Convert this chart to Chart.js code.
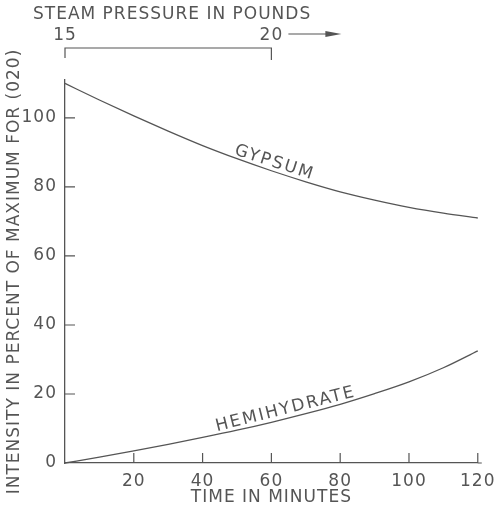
<!DOCTYPE html>
<html>
<head>
<meta charset="utf-8">
<script src="https://cdn.jsdelivr.net/npm/chart.js@4.4.1/dist/chart.umd.min.js"></script>
<style>
  html, body { margin: 0; padding: 0; background: #fff; }
  canvas { display: block; }
</style>
</head>
<body>
<canvas id="chart" width="502" height="508"></canvas>
<script>
// values
const minutes = [0, 10, 20, 30, 40, 50, 60, 70, 80, 90, 100, 110, 120];
const gypsum = [110, 105.2, 100.6, 96.2, 92.0, 88.2, 84.7, 81.5, 78.6, 76.2, 74.1, 72.4, 71.0];
const hemihydrate = [0, 1.7, 3.5, 5.4, 7.4, 9.5, 11.8, 14.3, 17.0, 20.1, 23.5, 27.6, 32.5];
const timeTicks = [20, 40, 60, 80, 100, 120];
const intensityTicks = [0, 20, 40, 60, 80, 100];
const pressureTicks = [15, 20];
const seriesNames = ["GYPSUM", "HEMIHYDRATE"];

const INK = "#555";
const FONT = { family: "'DejaVu Sans', sans-serif", size: 17 };

// label anchors in data units (minute, intensity)
const curveLabels = [
    { series: 0, minute: 60.5, value: 85.8 },
    { series: 1, minute: 64.5, value: 14.3 },
];

const decor = {
    id: "decor",
    beforeDraw(chart) {
        chart.ctx.letterSpacing = "1px";
    },
    afterDraw(chart) {
        const { ctx, chartArea } = chart;
        const x = chart.scales.x, y = chart.scales.y, p = chart.scales.x2;
        ctx.save();
        ctx.strokeStyle = INK;
        ctx.fillStyle = INK;
        ctx.lineWidth = 1.2;

        // inward tick marks
        ctx.beginPath();
        timeTicks.forEach(t => {
            const px = x.getPixelForValue(t);
            ctx.moveTo(px, chartArea.bottom);
            ctx.lineTo(px, chartArea.bottom - 10);
        });
        intensityTicks.slice(1).forEach(v => {
            const py = y.getPixelForValue(v);
            ctx.moveTo(chartArea.left, py);
            ctx.lineTo(chartArea.left + 10, py);
        });
        // axis runs a little past 120
        ctx.moveTo(chartArea.right, chartArea.bottom);
        ctx.lineTo(chartArea.right + 4, chartArea.bottom);
        ctx.stroke();

        // pressure bracket + arrow
        const p0 = p.getPixelForValue(pressureTicks[0]);
        const p1 = p.getPixelForValue(pressureTicks[1]);
        ctx.beginPath();
        ctx.moveTo(p0, 58); ctx.lineTo(p0, 48); ctx.lineTo(p1, 48); ctx.lineTo(p1, 60);
        ctx.stroke();
        ctx.beginPath();
        ctx.moveTo(p1 + 17, 34); ctx.lineTo(p1 + 58, 34);
        ctx.stroke();
        ctx.beginPath();
        ctx.moveTo(p1 + 70, 34); ctx.lineTo(p1 + 54, 31); ctx.lineTo(p1 + 54, 37);
        ctx.closePath(); ctx.fill();

        // top title
        ctx.font = `${FONT.size}px ${FONT.family}`;
        ctx.letterSpacing = "1px";
        ctx.textBaseline = "middle";
        ctx.textAlign = "left";
        ctx.fillText("STEAM PRESSURE IN POUNDS", 33, 15);

        // curve labels, rotated along the curve
        ctx.letterSpacing = "2px";
        curveLabels.forEach(l => {
            const pts = chart.getDatasetMeta(l.series).data;
            const i = Math.min(minutes.findIndex(m => m > l.minute), pts.length - 1);
            const a = Math.atan2(pts[i].y - pts[i - 1].y, pts[i].x - pts[i - 1].x);
            ctx.save();
            ctx.translate(x.getPixelForValue(l.minute), y.getPixelForValue(l.value));
            ctx.rotate(a);
            ctx.textAlign = "center";
            ctx.textBaseline = "alphabetic";
            ctx.fillText(seriesNames[l.series], 0, 0);
            ctx.restore();
        });
        ctx.restore();
    },
};

new Chart(document.getElementById("chart"), {
    type: "line",
    data: {
        datasets: [gypsum, hemihydrate].map((vals, k) => ({
            label: seriesNames[k],
            data: minutes.map((m, j) => ({ x: m, y: vals[j] })),
            borderColor: INK,
            borderWidth: 1.3,
            pointRadius: 0,
            cubicInterpolationMode: "monotone",
            clip: false,
        })),
    },
    options: {
        responsive: false,
        animation: false,
        layout: { padding: { left: 0, right: 24, top: 0, bottom: 0 } },
        plugins: { legend: { display: false }, tooltip: { enabled: false } },
        scales: {
            x: {
                type: "linear",
                position: "bottom",
                min: 0,
                max: 120,
                afterBuildTicks: s => { s.ticks = timeTicks.map(v => ({ value: v })); },
                afterFit: s => { s.height = 45; },
                grid: { drawOnChartArea: false, drawTicks: false },
                border: { display: true, color: INK, width: 1.3 },
                ticks: { color: INK, font: FONT, padding: 8, maxRotation: 0 },
                title: { display: true, text: "TIME IN MINUTES", color: INK, font: FONT, padding: { top: 0, bottom: 0 } },
            },
            x2: {
                type: "linear",
                position: "top",
                min: 15,
                max: 25,
                afterBuildTicks: s => { s.ticks = pressureTicks.map(v => ({ value: v })); },
                afterFit: s => { s.height = 80; },
                grid: { display: false, drawTicks: false },
                border: { display: false },
                ticks: { color: INK, font: FONT, padding: 34, maxRotation: 0 },
            },
            y: {
                min: 0,
                max: 111,
                afterBuildTicks: s => { s.ticks = intensityTicks.map(v => ({ value: v })); },
                afterFit: s => { s.width = 65; },
                grid: { drawOnChartArea: false, drawTicks: false },
                border: { display: true, color: INK, width: 1.3 },
                ticks: { color: INK, font: FONT, padding: 8 },
                title: { display: true, text: "INTENSITY IN PERCENT OF MAXIMUM FOR (020)", color: INK, font: FONT, padding: { top: 4, bottom: 0 } },
            },
        },
    },
    plugins: [decor],
});
</script>
</body>
</html>
